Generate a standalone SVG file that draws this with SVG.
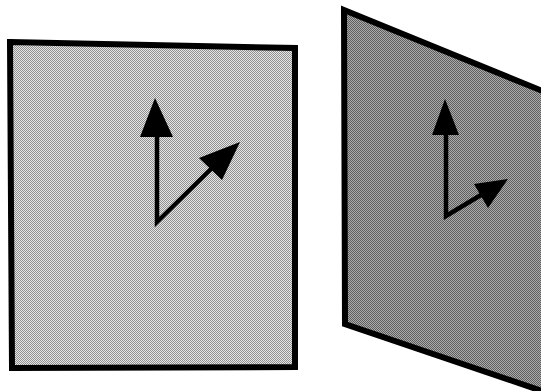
<svg xmlns="http://www.w3.org/2000/svg" width="541" height="391" viewBox="0 0 541 391">
  <defs>
    <pattern id="dotLight" width="2" height="2" patternUnits="userSpaceOnUse">
      <rect width="2" height="2" fill="#e6e6e6"/>
      <rect width="1" height="1" fill="#909090"/>
      <rect x="1" y="1" width="1" height="1" fill="#909090"/>
    </pattern>
    <pattern id="dotDark" width="2" height="2" patternUnits="userSpaceOnUse">
      <rect width="2" height="2" fill="#acacac"/>
      <rect width="1" height="1" fill="#5e5e5e"/>
      <rect x="1" y="1" width="1" height="1" fill="#5e5e5e"/>
    </pattern>
    <style>
      .panel { stroke: #000; stroke-width: 6; stroke-linejoin: miter; }
      .shaft { stroke: #000; stroke-width: 4.5; fill: none; stroke-linejoin: miter; }
      .head { fill: #000; stroke: none; }
    </style>
  </defs>
  <rect width="541" height="391" fill="#ffffff"/>

  <g id="panel-front">
    <polygon class="panel" fill="url(#dotLight)" points="10,42 295,48 295,367 12,368"/>
  </g>
  <g id="panel-tilted">
    <polygon class="panel" fill="url(#dotDark)" points="344,10 545,92 545,392 345,324"/>
  </g>

  <g id="connectors">
    <polyline class="shaft" points="157,133 157,222 212,168"/>
    <polygon class="head" points="155,98 140,137 173,137"/>
    <polygon class="head" points="240,142 199,158 222,180"/>

    <polyline class="shaft" points="446,132 446,216 481,195"/>
    <polygon class="head" points="445,99 432,135 459,135"/>
    <polygon class="head" points="508,179 474,184 488,208"/>
  </g>
</svg>
